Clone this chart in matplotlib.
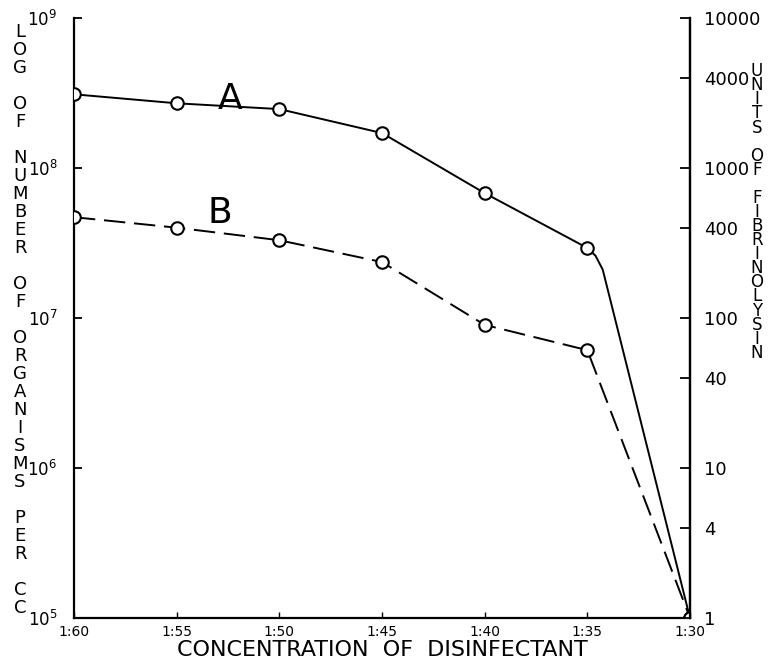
import matplotlib
matplotlib.use("Agg")
import matplotlib.pyplot as plt
from matplotlib.ticker import FixedLocator, NullLocator

# ---- data ----
concentration = [60, 55, 50, 45, 40, 35, 30]
curve_A = [3.1e8, 2.7e8, 2.47e8, 1.71e8, 6.8e7, 2.93e7, 1e5]
curve_B = [4.7e7, 4.0e7, 3.3e7, 2.36e7, 9.0e6, 6.1e6, 1e5]
# unmarked bend of curve A just past 1:35 (as drawn)
bend_A_x = [34.6, 34.25]
bend_A_y = [2.6e7, 2.1e7]

x_ticks = [60, 55, 50, 45, 40, 35, 30]
x_tick_labels = ["1:60", "1:55", "1:50", "1:45", "1:40", "1:35", "1:30"]
left_ticks = [1e5, 1e6, 1e7, 1e8, 1e9]
left_tick_labels = [r"$10^{5}$", r"$10^{6}$", r"$10^{7}$", r"$10^{8}$", r"$10^{9}$"]
right_ticks = [1, 4, 10, 40, 100, 400, 1000, 4000, 10000]
right_tick_labels = ["1", "4", "10", "40", "100", "400", "1000", "4000", "10000"]

x_label = "CONCENTRATION  OF  DISINFECTANT"
left_label = "LOG OF NUMBER OF ORGANISMS PER CC"
right_label = "UNITS OF FIBRINOLYSIN"

plt.rcParams['font.family'] = ['DejaVu Sans']

fig = plt.figure(figsize=(7.76, 6.68), dpi=100)
ax = fig.add_axes([74/776, 1-618/668, (690-74)/776, 600/668])

# curve A: marked points plus the drawn bend
xa = concentration[:6] + bend_A_x + concentration[6:]
ya = curve_A[:6] + bend_A_y + curve_A[6:]
ax.plot(xa, ya, color='black', lw=1.4, zorder=2)
ax.plot(concentration, curve_A, linestyle='none', marker='o', ms=9,
        mfc='white', mec='black', mew=1.5, zorder=3)

ax.plot(concentration, curve_B, color='black', lw=1.4, dashes=(11, 4.5), zorder=2)
ax.plot(concentration, curve_B, linestyle='none', marker='o', ms=9,
        mfc='white', mec='black', mew=1.5, zorder=3)

ax.set_yscale('log')
ax.set_xlim(60, 30)
ax.set_ylim(1e5, 1e9)

ax.xaxis.set_major_locator(FixedLocator(x_ticks))
ax.set_xticklabels(x_tick_labels, fontsize=10)
ax.yaxis.set_major_locator(FixedLocator(left_ticks))
ax.yaxis.set_minor_locator(NullLocator())
ax.set_yticklabels(left_tick_labels, fontsize=12)
ax.tick_params(axis='x', direction='in', length=4, width=1, pad=5)
ax.tick_params(axis='y', direction='in', length=6, width=1.3, pad=12)

for s in ['left', 'bottom', 'right']:
    ax.spines[s].set_linewidth(1.6)
ax.spines['top'].set_visible(False)

ax2 = ax.twinx()
ax2.set_yscale('log')
ax2.set_ylim(1, 10000)
ax2.yaxis.set_major_locator(FixedLocator(right_ticks))
ax2.yaxis.set_minor_locator(NullLocator())
ax2.set_yticklabels(right_tick_labels, fontsize=13)
ax2.tick_params(axis='y', direction='in', length=7, width=1.3, pad=10)
ax2.spines['top'].set_visible(False)
ax2.spines['left'].set_visible(False)
ax2.spines['right'].set_linewidth(1.6)
ax2.spines['bottom'].set_visible(False)

# curve letters
ax.text(52.4, 2.9e8, "A", fontsize=26, ha='center', va='center', zorder=4)
ax.text(52.9, 5.0e7, "B", fontsize=26, ha='center', va='center', zorder=4)

ax.set_xlabel(x_label, fontsize=16, labelpad=1)

fig.text(20/776, 1-320/668, "\n".join(left_label), fontsize=13,
         ha='center', va='center', linespacing=1.0)
fig.text(757/776, 1-212/668, "\n".join(right_label), fontsize=12,
         ha='center', va='center', linespacing=0.72)

fig.savefig("out.png", dpi=100)
